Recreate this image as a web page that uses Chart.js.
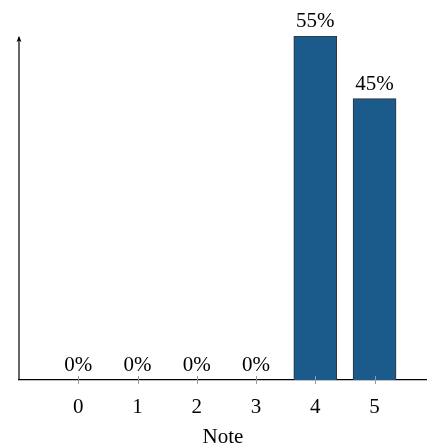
<!doctype html>
<html>
<head>
<script src="https://cdn.jsdelivr.net/npm/chart.js@4"></script>
<style>
  body { margin: 0; background: #fff; }
  #wrap { width: 427px; height: 448px; }
</style>
</head>
<body>
<div id="wrap"><canvas id="c" width="427" height="448"></canvas></div>
<script>
var notes = [0, 1, 2, 3, 4, 5];
var shares = [0, 0, 0, 0, 55, 45];
var xTicks = [0, 1, 2, 3, 4, 5];
var xTitle = "Note";

var serif = "'Liberation Serif', 'DejaVu Serif', serif";

// y axis line with arrow, tick marks crossing the x axis, and value labels
var extras = {
  id: "extras",
  afterDraw: function(chart) {
    var ctx = chart.ctx;
    var a = chart.chartArea;
    var xs = chart.scales.x;
    ctx.save();
    ctx.strokeStyle = "#000";
    ctx.lineWidth = 1.2;
    ctx.beginPath();
    ctx.moveTo(a.left, a.bottom);
    ctx.lineTo(a.left, a.top + 1);
    ctx.stroke();
    ctx.fillStyle = "#000";
    ctx.beginPath();
    ctx.moveTo(a.left, a.top);
    ctx.lineTo(a.left - 2.5, a.top + 6);
    ctx.lineTo(a.left, a.top + 4.5);
    ctx.lineTo(a.left + 2.5, a.top + 6);
    ctx.closePath();
    ctx.fill();

    ctx.strokeStyle = "#999";
    ctx.lineWidth = 1;
    xTicks.forEach(function(t) {
      var px = Math.round(xs.getPixelForValue(t)) + 0.5;
      ctx.beginPath();
      ctx.moveTo(px, a.bottom - 4);
      ctx.lineTo(px, a.bottom + 4);
      ctx.stroke();
    });

    ctx.fillStyle = "#000";
    ctx.font = "21px " + serif;
    ctx.textAlign = "center";
    ctx.textBaseline = "alphabetic";
    var meta = chart.getDatasetMeta(0);
    meta.data.forEach(function(bar, i) {
      ctx.fillText(shares[i] + "%", bar.x, bar.y - 9);
    });
    ctx.restore();
  }
};

new Chart(document.getElementById("c"), {
  type: "bar",
  data: {
    datasets: [{
      data: notes.map(function(n, i) { return { x: n, y: shares[i] }; }),
      backgroundColor: "#1a5b8b",
      borderColor: "#333",
      borderWidth: 1,
      barThickness: 43
    }]
  },
  options: {
    responsive: false,
    animation: false,
    layout: { padding: { top: 36, left: 19, right: 0, bottom: 0 } },
    plugins: { legend: { display: false }, tooltip: { enabled: false } },
    scales: {
      x: {
        type: "linear",
        offset: false,
        min: -1,
        max: 5.885,
        afterBuildTicks: function(axis) {
          axis.ticks = xTicks.map(function(v) { return { value: v }; });
        },
        grid: { display: false },
        border: { display: true, color: "#000", width: 1.2 },
        ticks: {
          color: "#000",
          padding: 9,
          font: { family: serif, size: 21, lineHeight: 1 }
        },
        title: {
          display: true,
          text: xTitle,
          color: "#000",
          padding: { top: 0, bottom: 0 },
          font: { family: serif, size: 21, lineHeight: 1 }
        }
      },
      y: {
        display: false,
        min: 0,
        max: 55
      }
    }
  },
  plugins: [extras]
});
</script>
</body>
</html>
